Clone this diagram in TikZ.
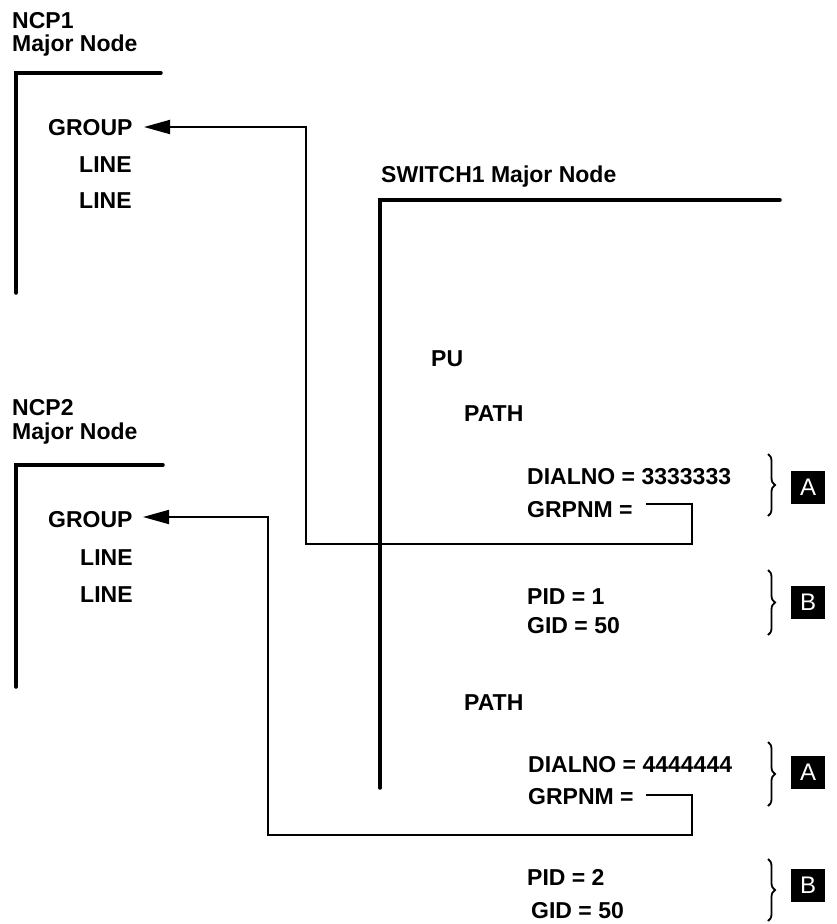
\documentclass[tikz,border=0pt]{standalone}
\usepackage{fontspec}
\setmainfont{Liberation Sans}
\usetikzlibrary{arrows.meta,decorations.pathreplacing}
\begin{document}
\begin{tikzpicture}[x=1pt,y=-1pt,
  txt/.style={anchor=base west,inner sep=0pt,font=\fontsize{23}{23}\selectfont\bfseries},
  bracket/.style={line width=3.5pt,line cap=round,line join=miter},
  conn/.style={line width=1.8pt,line join=miter},
  tipped/.style={-{Triangle[length=26pt,width=14pt]}},
  brc/.style={line width=1.8pt,decorate,decoration={brace,amplitude=7pt}},
  letterbox/.style={fill=black,text=white,inner sep=0pt,minimum width=34pt,minimum height=33pt,font=\fontsize{24}{24}\selectfont}]
\useasboundingbox (0,0) rectangle (836,924);

% NCP1
\node[txt] (ncp1) at (12,28) {NCP1};
\node[txt] (mj1) at (12,51) {Major Node};
\coordinate (b1a) at (16,293);
\coordinate (b1b) at (16,73);
\coordinate (b1c) at (161,73);
\draw[bracket] (b1a) -- (b1b) -- (b1c);
\node[txt] (group1) at (48,135) {GROUP};
\node[txt] (line1a) at (79,172) {LINE};
\node[txt] (line1b) at (79,208) {LINE};

% NCP2
\node[txt] (ncp2) at (12,415) {NCP2};
\node[txt] (mj2) at (12,439) {Major Node};
\coordinate (b2a) at (16,687);
\coordinate (b2b) at (16,465);
\coordinate (b2c) at (163,465);
\draw[bracket] (b2a) -- (b2b) -- (b2c);
\node[txt] (group2) at (48,527) {GROUP};
\node[txt] (line2a) at (80,565) {LINE};
\node[txt] (line2b) at (80,602) {LINE};

% SWITCH1
\node[txt] (sw) at (381,182) {SWITCH1 Major Node};
\coordinate (s1a) at (380,788);
\coordinate (s1b) at (380,200);
\coordinate (s1c) at (780,200);
\draw[bracket] (s1a) -- (s1b) -- (s1c);
\node[txt] (pu) at (431,366) {PU};
\node[txt] (path1) at (464,421) {PATH};
\node[txt] (dial1) at (527,484) {DIALNO = 3333333};
\node[txt] (grp1) at (527,517) {GRPNM =};
\node[txt] (pid1) at (527,604) {PID = 1};
\node[txt] (gid1) at (527,633) {GID = 50};
\node[txt] (path2) at (464,710) {PATH};
\node[txt] (dial2) at (528,772) {DIALNO = 4444444};
\node[txt] (grp2) at (528,804) {GRPNM =};
\node[txt] (pid2) at (527,885) {PID = 2};
\node[txt] (gid2) at (531,918) {GID = 50};

% braces and boxes
\coordinate (ba1t) at (768,454); \coordinate (ba1b) at (768,516);
\coordinate (bb1t) at (768,570); \coordinate (bb1b) at (768,635);
\coordinate (ba2t) at (768,742); \coordinate (ba2b) at (768,806);
\coordinate (bb2t) at (768,859); \coordinate (bb2b) at (768,921);
\draw[brc] (ba1t) -- (ba1b);
\draw[brc] (bb1t) -- (bb1b);
\draw[brc] (ba2t) -- (ba2b);
\draw[brc] (bb2t) -- (bb2b);
\node[letterbox] (A1) at (808,487) {A};
\node[letterbox] (B1) at (808,602) {B};
\node[letterbox] (A2) at (808,772) {A};
\node[letterbox] (B2) at (808,885) {B};

% connectors
\coordinate (c1s) at (646,504);
\coordinate (c1a) at (692,504);
\coordinate (c1b) at (692,544);
\coordinate (c1c) at (306,544);
\coordinate (c1d) at (306,127);
\coordinate (c1t) at (144,127);
\draw[conn,tipped] (c1s) -- (c1a) -- (c1b) -- (c1c) -- (c1d) -- (c1t);

\coordinate (c2s) at (646,795);
\coordinate (c2a) at (692,795);
\coordinate (c2b) at (692,835);
\coordinate (c2c) at (268,835);
\coordinate (c2d) at (268,517);
\coordinate (c2t) at (143,517);
\draw[conn,tipped] (c2s) -- (c2a) -- (c2b) -- (c2c) -- (c2d) -- (c2t);
\end{tikzpicture}
\end{document}
